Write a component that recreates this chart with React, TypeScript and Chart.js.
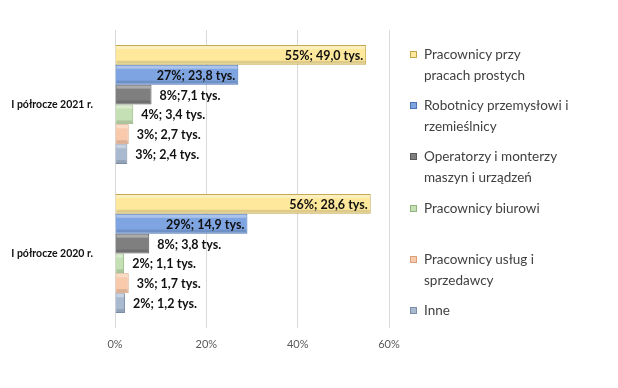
import React, { useEffect, useRef } from "react";
import { Chart, registerables } from "chart.js";

Chart.register(...registerables);

const categories = ["I półrocze 2021 r.", "I półrocze 2020 r."];
const xTicks = [0, 20, 40, 60];

const seriesNames = [
  "Pracownicy przy pracach prostych",
  "Robotnicy przemysłowi i rzemieślnicy",
  "Operatorzy i monterzy maszyn i urządzeń",
  "Pracownicy biurowi",
  "Pracownicy usług i sprzedawcy",
  "Inne",
];
const legendLines = [
  ["Pracownicy przy", "pracach prostych"],
  ["Robotnicy przemysłowi i", "rzemieślnicy"],
  ["Operatorzy i monterzy", "maszyn i urządzeń"],
  ["Pracownicy biurowi"],
  ["Pracownicy usług i", "sprzedawcy"],
  ["Inne"],
];

const prosteValues = [55, 56];
const robotnicyValues = [27, 29];
const operatorzyValues = [8, 7.5];
const biuroweValues = [4, 2];
const uslugiValues = [3, 3];
const inneValues = [2.7, 2.2];

const prosteLabels = ["55%; 49,0 tys.", "56%; 28,6 tys."];
const robotnicyLabels = ["27%; 23,8 tys.", "29%; 14,9 tys."];
const operatorzyLabels = ["8%;7,1 tys.", "8%; 3,8 tys."];
const biuroweLabels = ["4%; 3,4 tys.", "2%; 1,1 tys."];
const uslugiLabels = ["3%; 2,7 tys.", "3%; 1,7 tys."];
const inneLabels = ["3%; 2,4 tys.", "2%; 1,2 tys."];

const fills = ["#FDE89C", "#7EA4E1", "#7F7F7F", "#C6E0B5", "#F8C9AA", "#A9B9CF"];
const borders = ["#C2A64C", "#4A74B5", "#5A5A5A", "#92B47C", "#D89F79", "#7D8FA8"];

const valueSets = [prosteValues, robotnicyValues, operatorzyValues, biuroweValues, uslugiValues, inneValues];
const labelSets = [prosteLabels, robotnicyLabels, operatorzyLabels, biuroweLabels, uslugiLabels, inneLabels];
const insideSeries = [true, true, false, false, false, false];

const bevelPlugin = {
  id: "bevel",
  afterDatasetDraw(chart: any, args: any) {
    const ctx = chart.ctx;
    const meta = args.meta;
    meta.data.forEach((el: any) => {
      const { x, y, base, height } = el.getProps(["x", "y", "base", "height"], true);
      const top = y - height / 2;
      const left = Math.min(x, base);
      const w = Math.abs(x - base);
      ctx.save();
      ctx.fillStyle = "rgba(255,255,255,0.35)";
      ctx.fillRect(left + 1, top + 1, w - 2, 3);
      ctx.fillStyle = "rgba(0,0,0,0.12)";
      ctx.fillRect(left + 1, top + height - 4, w - 2, 3);
      ctx.restore();
    });
  },
};

const labelPlugin = {
  id: "barLabels",
  afterDatasetsDraw(chart: any) {
    const ctx = chart.ctx;
    ctx.save();
    ctx.font = "bold 12.5px Lato, 'Noto Sans', sans-serif";
    ctx.fillStyle = "#111111";
    ctx.textBaseline = "middle";
    chart.data.datasets.forEach((ds: any, di: number) => {
      const meta = chart.getDatasetMeta(di);
      meta.data.forEach((el: any, i: number) => {
        const text = labelSets[di][i];
        if (insideSeries[di]) {
          ctx.textAlign = "right";
          ctx.fillText(text, el.x - 3, el.y + 1);
        } else {
          ctx.textAlign = "left";
          ctx.fillText(text, el.x + 8, el.y + 1);
        }
      });
    });
    ctx.restore();
  },
};

export default function App() {
  const canvasRef = useRef<HTMLCanvasElement | null>(null);

  useEffect(() => {
    document.body.style.margin = "0";
    const canvas = canvasRef.current;
    if (!canvas) return;
    const chart = new Chart(canvas, {
      type: "bar",
      data: {
        labels: categories,
        datasets: seriesNames.map((name, i) => ({
          label: name,
          data: valueSets[i],
          backgroundColor: fills[i],
          borderColor: borders[i],
          borderWidth: 1,
          categoryPercentage: 0.8,
          barPercentage: 1.0,
        })),
      },
      options: {
        indexAxis: "y",
        responsive: false,
        animation: false,
        devicePixelRatio: 1,
        layout: { padding: { top: 30, right: 229, left: 0, bottom: 0 } },
        plugins: {
          legend: { display: false },
          tooltip: { enabled: false },
        },
        scales: {
          x: {
            min: 0,
            max: 60,
            afterBuildTicks: (s: any) => {
              s.ticks = xTicks.map((v) => ({ value: v }));
            },
            ticks: {
              callback: (v: any) => v + "%",
              color: "#595959",
              font: { family: "Lato, 'Noto Sans', sans-serif", size: 11 },
              padding: 10,
            },
            grid: { color: "#D9D9D9", drawTicks: false },
            border: { display: false },
            afterFit: (s: any) => {
              s.height = 60;
            },
          },
          y: {
            type: "category",
            grid: { display: false },
            border: { display: false },
            ticks: {
              color: "#111111",
              font: { family: "Lato, 'Noto Sans', sans-serif", size: 10.5, weight: "bold" },
              padding: 14,
            },
            afterFit: (s: any) => {
              s.width = 115;
            },
          },
        },
      },
      plugins: [bevelPlugin, labelPlugin],
    } as any);
    return () => chart.destroy();
  }, []);

  return (
    <div style={{ position: "relative", width: 618, height: 388, background: "#ffffff" }}>
      <canvas ref={canvasRef} width={618} height={388} style={{ display: "block" }} />
      <div
        style={{
          position: "absolute",
          left: 408,
          top: 44,
          fontFamily: "Lato, 'Noto Sans', sans-serif",
          fontSize: 13.5,
          color: "#404040",
        }}
      >
        {legendLines.map((lines, i) => (
          <div key={i} style={{ position: "relative", height: 51.2 }}>
            <div
              style={{
                position: "absolute",
                left: 2,
                top: 7,
                width: 7,
                height: 7,
                background: fills[i],
                border: "1px solid " + borders[i],
                boxSizing: "border-box",
              }}
            />
            <div style={{ position: "absolute", left: 16, top: 0, lineHeight: "21px", whiteSpace: "nowrap" }}>
              {lines.map((l, j) => (
                <div key={j}>{l}</div>
              ))}
            </div>
          </div>
        ))}
      </div>
    </div>
  );
}
